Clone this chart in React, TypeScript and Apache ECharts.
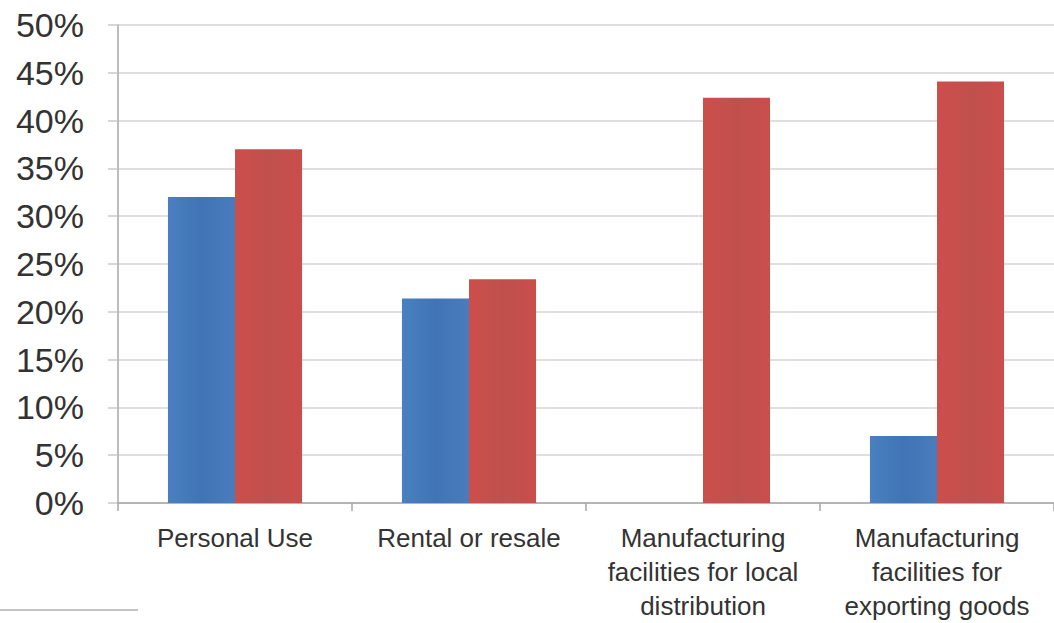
import React, { useEffect, useRef } from "react";
import * as echarts from "echarts";

const categories = [
  "Personal Use",
  "Rental or resale",
  "Manufacturing\nfacilities for local\ndistribution",
  "Manufacturing\nfacilities for\nexporting goods",
];
const seriesBlue = [32.0, 21.4, 0, 7.0];
const seriesRed = [37.0, 23.4, 42.4, 44.1];
const yTicks = [0, 5, 10, 15, 20, 25, 30, 35, 40, 45, 50];

export default function App() {
  const ref = useRef<HTMLDivElement>(null);
  useEffect(() => {
    if (!ref.current) return;
    const chart = echarts.init(ref.current, undefined, { renderer: "svg" });
    const grad = (a: string, b: string, c: string) => ({
      type: "linear",
      x: 0,
      y: 0,
      x2: 1,
      y2: 0,
      colorStops: [
        { offset: 0, color: a },
        { offset: 0.5, color: b },
        { offset: 1, color: c },
      ],
    });
    chart.setOption({
      animation: false,
      backgroundColor: "#ffffff",
      grid: { left: 118, right: 0, top: 25, bottom: 119, containLabel: false },
      xAxis: {
        type: "category",
        data: categories,
        axisLine: { show: true, lineStyle: { color: "#a6a6a6", width: 1.5 } },
        axisTick: { show: true, length: 8, alignWithLabel: false, lineStyle: { color: "#a6a6a6", width: 1.5 } },
        axisLabel: {
          interval: 0,
          color: "#333333",
          fontFamily: "Liberation Sans, Arial, sans-serif",
          fontSize: 26,
          lineHeight: 34,
          margin: 18,
        },
        splitLine: { show: false },
      },
      yAxis: {
        type: "value",
        min: yTicks[0],
        max: yTicks[yTicks.length - 1],
        interval: 5,
        axisLine: { show: true, lineStyle: { color: "#a6a6a6", width: 1.5 } },
        axisTick: { show: true, length: 10, lineStyle: { color: "#c8c8c8", width: 1.5 } },
        axisLabel: {
          color: "#333333",
          fontFamily: "Liberation Sans, Arial, sans-serif",
          fontSize: 34,
          margin: 34,
          formatter: (v: number) => v + "%",
        },
        splitLine: { show: true, lineStyle: { color: "#d4d4d4", width: 1.5 } },
      },
      series: [
        {
          type: "bar",
          name: "Blue",
          data: seriesBlue,
          barGap: "0%",
          barCategoryGap: "42.7%",
          itemStyle: { color: grad("#4a7fc0", "#3f74b6", "#4a7cbd") },
        },
        {
          type: "bar",
          name: "Red",
          data: seriesRed,
          barGap: "0%",
          barCategoryGap: "42.7%",
          itemStyle: { color: grad("#cd4e4b", "#c0504d", "#c94e4c") },
        },
      ],
      graphic: [
        {
          type: "line",
          shape: { x1: 0, y1: 610, x2: 138, y2: 610 },
          style: { stroke: "#b0b0b0", lineWidth: 1.5 },
        },
      ],
    });
    return () => chart.dispose();
  }, []);
  return (
    <div
      ref={ref}
      style={{ position: "absolute", left: 0, top: 0, width: 1054, height: 623 }}
    />
  );
}
